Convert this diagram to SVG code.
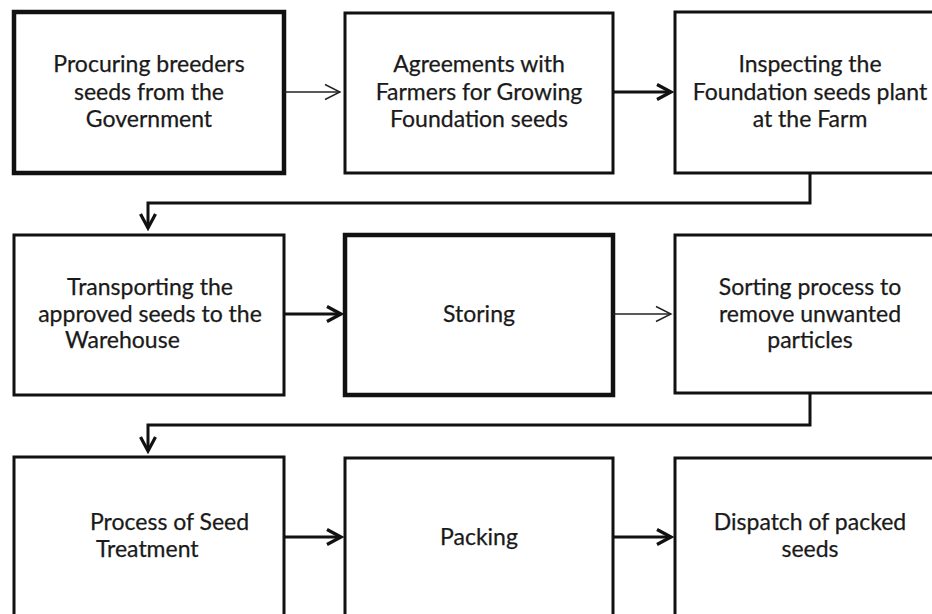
<svg xmlns="http://www.w3.org/2000/svg" width="932" height="614" viewBox="0 0 932 614">
<defs>
<style>
.box{fill:#fff;stroke:#111;stroke-width:3}
.thick{stroke-width:4.5}
.t{font-family:Lato,"Open Sans",sans-serif;font-size:23px;fill:#1a1a1a;text-anchor:middle;stroke:#1a1a1a;stroke-width:0.25}
.s{text-anchor:start}
.thin{fill:none;stroke:#222;stroke-width:1.3}
.bold{fill:none;stroke:#111;stroke-width:3}
</style>
<marker id="open" viewBox="0 0 18 18" refX="16" refY="9" markerWidth="18" markerHeight="18" markerUnits="userSpaceOnUse" orient="auto">
<path d="M1,1.5 L16,9 L1,16.5" fill="none" stroke="#222" stroke-width="1.4"/>
</marker>
<marker id="hard" viewBox="0 0 20 20" refX="17" refY="10" markerWidth="20" markerHeight="20" markerUnits="userSpaceOnUse" orient="auto">
<path d="M3,2.5 L17,10 L3,17.5" fill="none" stroke="#111" stroke-width="3.2"/>
</marker>
</defs>
<rect width="932" height="614" fill="#fff"/>
<g id="n1"><rect class="box thick" x="14" y="12" width="270" height="161"/>
<text class="t" x="149" y="72">Procuring breeders</text><text class="t" x="149" y="100">seeds from the</text><text class="t" x="149" y="127">Government</text></g>
<g id="n2"><rect class="box" x="345" y="13" width="268" height="160"/>
<text class="t" x="479" y="72">Agreements with</text><text class="t" x="479" y="100">Farmers for Growing</text><text class="t" x="479" y="127">Foundation seeds</text></g>
<g id="n3"><rect class="box" x="675" y="12" width="270" height="161"/>
<text class="t" x="810" y="72">Inspecting the</text><text class="t" x="810" y="100">Foundation seeds plant</text><text class="t" x="810" y="127">at the Farm</text></g>
<g id="n4"><rect class="box" x="14" y="235" width="270" height="160"/>
<text class="t" x="150" y="295">Transporting the</text><text class="t" x="150" y="322">approved seeds to the</text><text class="t s" x="65" y="348">Warehouse</text></g>
<g id="n5"><rect class="box thick" x="345" y="235" width="268" height="160"/>
<text class="t" x="479" y="322">Storing</text></g>
<g id="n6"><rect class="box" x="675" y="235" width="270" height="158"/>
<text class="t" x="810" y="295">Sorting process to</text><text class="t" x="810" y="322">remove unwanted</text><text class="t" x="810" y="348">particles</text></g>
<g id="n7"><rect class="box" x="14" y="457" width="270" height="170"/>
<text class="t s" x="90" y="530">Process of Seed</text><text class="t s" x="96" y="557">Treatment</text></g>
<g id="n8"><rect class="box" x="345" y="458" width="268" height="170"/>
<text class="t" x="479" y="545">Packing</text></g>
<g id="n9"><rect class="box" x="675" y="458" width="270" height="170"/>
<text class="t" x="810" y="530">Dispatch of packed</text><text class="t" x="810" y="557">seeds</text></g>
<g id="connectors">
<path class="thin" d="M284,92 H340" marker-end="url(#open)"/>
<path class="bold" d="M613,92 H671" marker-end="url(#hard)"/>
<path class="bold" d="M810,173 V203 H148 V228" marker-end="url(#hard)"/>
<path class="bold" d="M284,314 H341" marker-end="url(#hard)"/>
<path class="thin" d="M613,314 H671" marker-end="url(#open)"/>
<path class="bold" d="M810,393 V425 H148 V451" marker-end="url(#hard)"/>
<path class="bold" d="M284,537 H341" marker-end="url(#hard)"/>
<path class="bold" d="M613,537 H671" marker-end="url(#hard)"/>
</g>
</svg>
